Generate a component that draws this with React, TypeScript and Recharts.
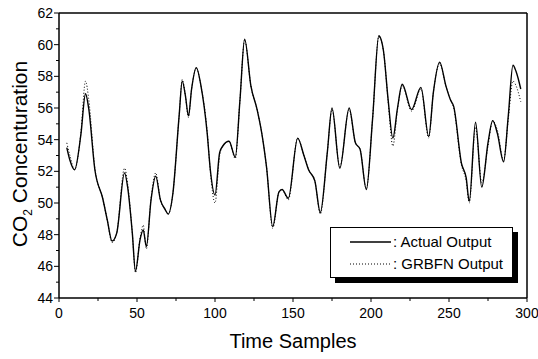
import React from "react";
import {
  LineChart,
  Line,
  XAxis,
  YAxis,
  ReferenceLine,
} from "recharts";

const FONT = "'Liberation Sans Narrow', 'Liberation Sans', Arial, sans-serif";

// sample index (x) and both outputs
const samples = [
  5, 7, 10, 14, 17, 19, 23, 28, 31, 34, 37, 42, 44, 47, 49, 52, 54, 56, 59, 62,
  65, 68, 70, 73, 77, 79, 81, 83, 85, 88, 91, 95, 97, 100, 103, 105, 109, 113,
  116, 119, 123, 127, 130, 133, 137, 141, 143, 147, 153, 157, 160, 164, 167.5,
  172, 175, 180, 186, 190, 193, 197, 201, 205, 208, 211, 214, 217, 220, 226,
  232, 237, 240, 244, 248, 251, 253, 258, 261, 263, 267, 271, 275, 278, 281,
  285, 288, 291, 293, 296,
];

const actualOutput = [
  53.5, 52.7, 52.1, 54.3, 56.9, 56.0, 52.1, 50.3, 48.9, 47.6, 48.1, 51.9, 51.0,
  48.1, 45.7, 47.7, 48.3, 47.25, 50.2, 51.7, 50.2, 49.6, 49.3, 50.6, 55.5, 57.7,
  56.8, 55.5, 57.2, 58.55, 57.4, 54.4, 52.1, 50.5, 53.2, 53.6, 53.9, 52.9, 56.5,
  60.35, 57.4, 55.9, 54.4, 52.3, 48.5, 50.7, 50.85, 50.3, 54.1, 53.0, 52.1, 51.4,
  49.4, 53.2, 56.0, 52.2, 56.0, 53.8, 53.4, 50.85, 55.3, 60.56, 59.6, 56.5, 54.1,
  56.0, 57.5, 55.9, 57.3, 54.2, 57.0, 58.9, 57.4, 56.5, 56.1, 52.5, 51.6, 50.1,
  55.1, 51.0, 53.8, 55.2, 54.4, 52.6, 55.5, 58.7, 58.3, 57.2,
];

const grbfnOutput = [
  53.8, 53.0, 52.1, 54.4, 57.7, 56.6, 52.2, 50.3, 48.9, 47.5, 48.1, 52.2, 51.2,
  48.1, 45.6, 47.8, 48.6, 47.1, 50.3, 51.9, 50.2, 49.6, 49.3, 50.6, 55.5, 57.8,
  56.8, 55.4, 57.2, 58.5, 57.4, 54.5, 52.0, 50.0, 53.0, 53.6, 53.9, 52.8, 56.5,
  60.3, 57.4, 55.9, 54.4, 52.3, 48.4, 50.7, 50.85, 50.2, 54.1, 53.0, 52.1, 51.4,
  49.3, 53.2, 55.9, 52.3, 55.9, 53.8, 53.4, 50.9, 55.3, 60.5, 59.6, 56.4, 53.6,
  55.9, 57.4, 55.8, 57.2, 54.1, 57.0, 58.8, 57.4, 56.5, 56.0, 52.4, 51.4, 50.0,
  54.8, 51.3, 53.6, 55.2, 54.6, 52.7, 55.3, 57.7, 57.4, 56.4,
];

const xTicks = [0, 25, 50, 75, 100, 125, 150, 175, 200, 225, 250, 275, 300];
const yTicks = [
  44, 45, 46, 47, 48, 49, 50, 51, 52, 53, 54, 55, 56, 57, 58, 59, 60, 61, 62,
];

const data = samples.map((s, i) => ({
  sample: s,
  actual: actualOutput[i],
  grbfn: grbfnOutput[i],
}));

const XTick = (props: any) => {
  const { x, y, payload } = props;
  const major = payload.value % 50 === 0;
  return (
    <g>
      <line x1={x} x2={x} y1={y} y2={y + (major ? 4 : 3)} stroke="#000" strokeWidth={1} />
      {major && (
        <text x={x} y={y + 20} textAnchor="middle" fontSize={14} fontFamily={FONT} fill="#000">
          {payload.value}
        </text>
      )}
    </g>
  );
};

const YTick = (props: any) => {
  const { x, y, payload } = props;
  const major = payload.value % 2 === 0;
  return (
    <g>
      <line x1={x - (major ? 5 : 3)} x2={x} y1={y} y2={y} stroke="#000" strokeWidth={1} />
      {major && (
        <text x={x - 6} y={y + 5} textAnchor="end" fontSize={14} fontFamily={FONT} fill="#000">
          {payload.value}
        </text>
      )}
    </g>
  );
};

const YLabel = () => (
  <text
    transform="translate(27,154) rotate(-90)"
    textAnchor="middle"
    fontSize={21}
    fontFamily={FONT}
    fill="#000"
  >
    CO
    <tspan fontSize={12} dy={5}>2</tspan>
    <tspan dy={-5}> Concenturation</tspan>
  </text>
);

export default function App() {
  return (
    <div style={{ position: "absolute", left: 0, top: 0, width: 538, height: 359, background: "#fff" }}>
      <LineChart
        width={538}
        height={359}
        data={data}
        margin={{ top: 13, right: 11, bottom: 0, left: 0 }}
      >
        <XAxis
          dataKey="sample"
          type="number"
          domain={[0, 300]}
          ticks={xTicks}
          interval={0}
          height={61}
          tickSize={0}
          tickMargin={0}
          tickLine={false}
          tick={<XTick />}
          axisLine={{ stroke: "#000", strokeWidth: 1.5 }}
          label={{
            value: "Time Samples",
            position: "insideBottom",
            offset: 11,
            fontSize: 20,
            fontFamily: FONT,
            fill: "#000",
          }}
        />
        <YAxis
          type="number"
          domain={[44, 62]}
          ticks={yTicks}
          interval={0}
          width={59}
          tickSize={0}
          tickMargin={0}
          tickLine={false}
          tick={<YTick />}
          axisLine={{ stroke: "#000", strokeWidth: 1.5 }}
          label={<YLabel />}
        />
        <ReferenceLine y={62} stroke="#000" strokeWidth={1.5} />
        <ReferenceLine x={300} stroke="#000" strokeWidth={1.5} />
        <Line
          type="monotone"
          dataKey="grbfn"
          stroke="#000"
          strokeWidth={1}
          strokeDasharray="1 2"
          dot={false}
          isAnimationActive={false}
        />
        <Line
          type="monotone"
          dataKey="actual"
          stroke="#000"
          strokeWidth={1.4}
          dot={false}
          isAnimationActive={false}
        />
      </LineChart>

      {/* legend box with a hard drop shadow, as in the source figure */}
      <div
        style={{
          position: "absolute",
          left: 330,
          top: 227,
          width: 181,
          height: 49,
          background: "#fff",
          border: "1px solid #000",
          boxShadow: "5px 5px 0 #000",
          fontFamily: FONT,
          fontSize: 15,
          color: "#000",
        }}
      >
        <svg width={181} height={49} style={{ position: "absolute", left: 0, top: 0 }}>
          <line x1={19} x2={60} y1={14} y2={14} stroke="#000" strokeWidth={1.4} />
          <line x1={19} x2={60} y1={36} y2={36} stroke="#000" strokeWidth={1} strokeDasharray="1 2" />
          <text x={62} y={19} fontSize={15} fontFamily={FONT}>: Actual Output</text>
          <text x={62} y={41} fontSize={15} fontFamily={FONT}>: GRBFN Output</text>
        </svg>
      </div>
    </div>
  );
}
